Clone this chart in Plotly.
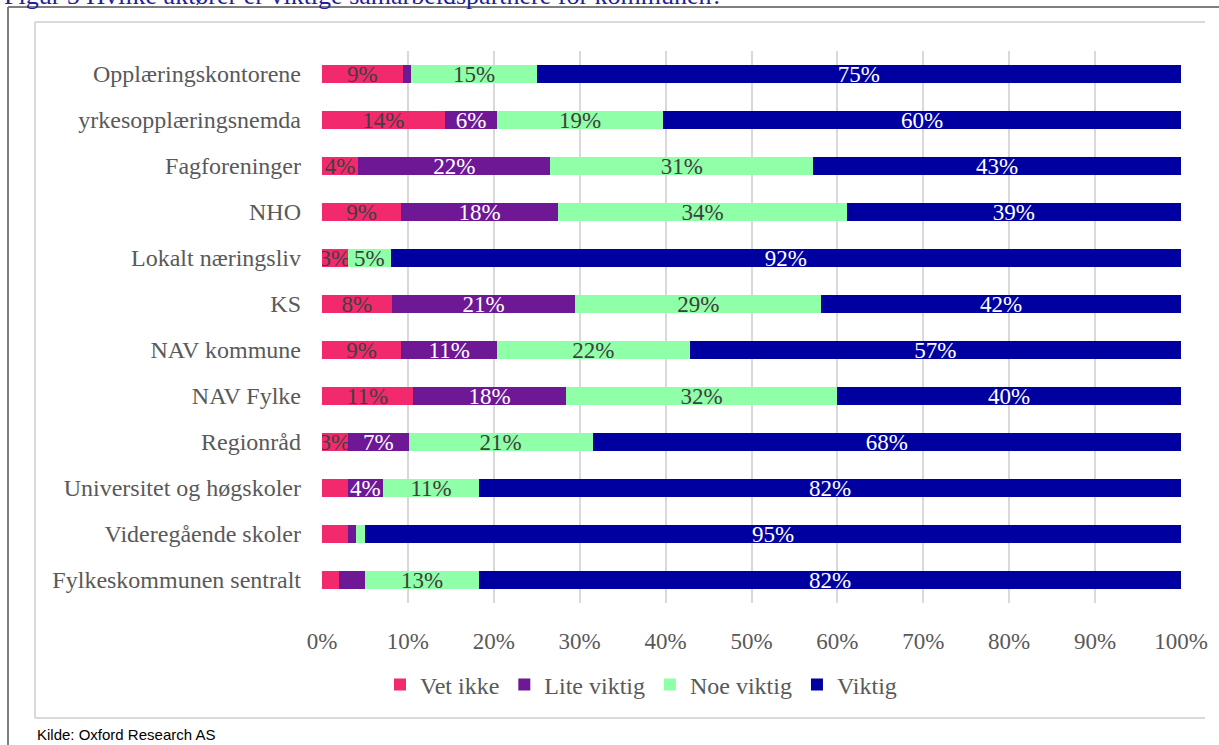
import plotly.graph_objects as go

categories = ["Opplæringskontorene", "yrkesopplæringsnemda", "Fagforeninger", "NHO",
              "Lokalt næringsliv", "KS", "NAV kommune", "NAV Fylke", "Regionråd",
              "Universitet og høgskoler", "Videregående skoler", "Fylkeskommunen sentralt"]

vet_ikke = [9.4, 14.3, 4.2, 9.2, 3.0, 8.1, 9.2, 10.6, 3.0, 3.0, 3.0, 2.0]
lite_viktig = [1.0, 6.1, 22.4, 18.3, 0.0, 21.4, 11.2, 17.8, 7.1, 4.1, 1.0, 3.0]
noe_viktig = [14.6, 19.3, 30.6, 33.6, 5.0, 28.6, 22.4, 31.6, 21.4, 11.2, 1.0, 13.3]
viktig = [75.0, 60.3, 42.8, 38.9, 92.0, 41.9, 57.2, 40.0, 68.5, 81.7, 95.0, 81.7]

# labels hidden in the original (indices of categories)
hidden = {
    "Vet ikke": {9, 10, 11},
    "Lite viktig": {0, 4, 10, 11},
    "Noe viktig": {10},
    "Viktig": set(),
}

tick_vals = [0, 10, 20, 30, 40, 50, 60, 70, 80, 90, 100]
tick_text = [f"{v}%" for v in tick_vals]

series = [
    ("Vet ikke", vet_ikke, "#F2296C", "#404040"),
    ("Lite viktig", lite_viktig, "#6E1896", "#FFFFFF"),
    ("Noe viktig", noe_viktig, "#8FFFA8", "#404040"),
    ("Viktig", viktig, "#0000A0", "#FFFFFF"),
]

SERIF = "Liberation Serif, Times New Roman, serif"
FS = 23
FS_CAT = 24

fig = go.Figure()
for name, vals, color, tcolor in series:
    texts = ["" if i in hidden[name] else f"{round(v):.0f}%" for i, v in enumerate(vals)]
    fig.add_trace(go.Bar(
        y=categories, x=vals, name=name, orientation="h",
        marker=dict(color=color, line=dict(width=0)),
        text=texts, textposition="inside", insidetextanchor="middle",
        textangle=0, constraintext="none",
        textfont=dict(family=SERIF, size=FS, color=tcolor),
        hoverinfo="skip",
    ))

W, H = 1219, 745
L, R, T, B = 322, 38, 51, 142
PW, PH = W - L - R, H - T - B


def px(x):
    return (x - L) / PW


def py(y):
    return 1 - (y - T) / PH


shapes = [
    # outer dark frame
    dict(type="line", xref="paper", yref="paper", x0=px(8), x1=px(8), y0=py(7), y1=py(746),
         line=dict(color="#7F7F7F", width=2)),
    dict(type="line", xref="paper", yref="paper", x0=px(8), x1=px(1222), y0=py(7), y1=py(7),
         line=dict(color="#7F7F7F", width=2)),
    # inner light frame
    dict(type="line", xref="paper", yref="paper", x0=px(35), x1=px(35), y0=py(22), y1=py(718),
         line=dict(color="#D9D9D9", width=2)),
    dict(type="line", xref="paper", yref="paper", x0=px(35), x1=px(1205), y0=py(22), y1=py(22),
         line=dict(color="#D9D9D9", width=2)),
    dict(type="line", xref="paper", yref="paper", x0=px(35), x1=px(1205), y0=py(718), y1=py(718),
         line=dict(color="#D9D9D9", width=2)),
]

annotations = [
    dict(text="Figur 5 Hvilke aktører er viktige samarbeidspartnere for kommunen?",
         xref="paper", yref="paper", x=px(2), y=py(12.5), xanchor="left", yanchor="bottom",
         showarrow=False, font=dict(family=SERIF, size=26, color="#1F1FA0")),
    dict(text="Kilde: Oxford Research AS",
         xref="paper", yref="paper", x=px(35), y=py(734), xanchor="left", yanchor="middle",
         showarrow=False,
         font=dict(family="Liberation Sans Narrow, Arial Narrow, Liberation Sans, Arial", size=15,
                   color="#000000")),
]

fig.update_layout(
    barmode="stack", bargap=0.59,
    width=W, height=H,
    margin=dict(l=L, r=R, t=T, b=B, pad=0),
    paper_bgcolor="white", plot_bgcolor="white",
    font=dict(family=SERIF, size=FS, color="#595959"),
    showlegend=True,
    legend=dict(orientation="h", x=px(641), y=py(685), xanchor="center", yanchor="middle",
                font=dict(family=SERIF, size=FS_CAT, color="#595959"), traceorder="normal",
                itemwidth=30, itemsizing="constant"),
    uniformtext=dict(mode="show", minsize=FS),
    shapes=shapes, annotations=annotations,
)

fig.update_xaxes(range=[0, 100], tickvals=tick_vals, ticktext=tick_text,
                 showgrid=True, gridcolor="#D9D9D9", gridwidth=2,
                 zeroline=False, showline=False, ticks="", ticklabelstandoff=22,
                 tickfont=dict(family=SERIF, size=FS, color="#595959"), fixedrange=True)
fig.update_yaxes(autorange="reversed", showgrid=False, showline=False, ticks="",
                 ticklabelstandoff=20, tickfont=dict(family=SERIF, size=FS_CAT, color="#595959"),
                 fixedrange=True)

fig.write_html("out.html", config={"displayModeBar": False},
               post_script="document.body.style.margin='0px';document.body.style.overflow='hidden';")
